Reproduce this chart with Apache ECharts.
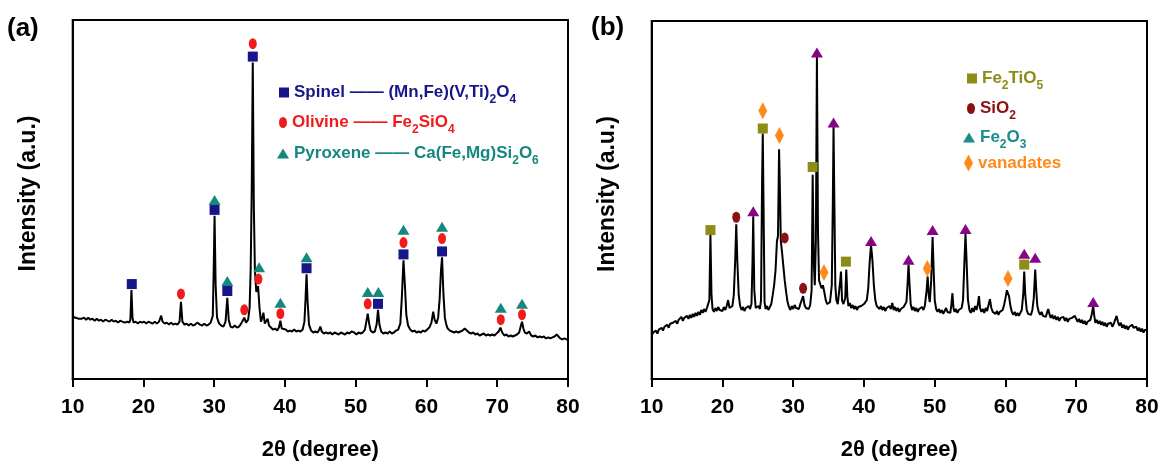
<!DOCTYPE html>
<html><head><meta charset="utf-8">
<script src="https://cdn.jsdelivr.net/npm/echarts@6/dist/echarts.min.js"></script>
<style>html,body{margin:0;padding:0;background:#fff}#c{width:1162px;height:466px}</style>
</head><body><div id="c"></div><script>
// ---- Panel (a): XRD pattern [2θ, intensity (a.u.)] ----
const aPattern = [
[10.0,63],[10.2,65],[10.4,62],[10.6,64],[10.8,61],[11.0,63],[11.3,61],[11.6,62],[11.9,60],[12.2,62],[12.5,60],[12.8,61],[13.1,59],[13.4,61],[13.7,59],[14.0,60],[14.3,58],[14.6,60],[14.9,59],[15.2,58],[15.5,60],[15.8,58],[16.1,59],[16.4,57],[16.7,59],[17.0,58],[17.2,60],[17.4,57],[17.7,58],[18.0,57],[18.15,60],[18.3,90],[18.45,62],[18.6,57],[18.9,58],[19.2,56],[19.5,58],[19.8,57],[20.1,58],[20.4,56],[20.7,58],[21.0,57],[21.3,56],[21.6,58],[21.9,56],[22.2,58],[22.5,64],[22.7,58],[23.0,56],[23.3,57],[23.6,55],[23.9,57],[24.2,55],[24.5,56],[24.8,55],[25.1,58],[25.3,78],[25.5,58],[25.8,55],[26.1,56],[26.4,54],[26.7,56],[27.0,54],[27.3,55],[27.6,57],[27.8,59],[28.0,55],[28.3,54],[28.6,56],[28.9,54],[29.2,55],[29.5,57],[29.8,64],[29.95,120],[30.05,165],[30.2,95],[30.4,62],[30.7,56],[31.0,54],[31.3,53],[31.6,58],[31.85,82],[32.05,60],[32.3,53],[32.6,52],[32.9,54],[33.2,52],[33.5,53],[33.8,56],[34.0,55],[34.25,62],[34.5,57],[34.8,60],[35.0,72],[35.15,110],[35.3,190],[35.45,320],[35.6,175],[35.75,110],[35.95,88],[36.2,94],[36.4,72],[36.6,58],[36.8,62],[36.95,67],[37.15,56],[37.4,58],[37.55,61],[37.75,54],[38.0,52],[38.3,50],[38.6,51],[38.9,49],[39.15,52],[39.35,59],[39.55,51],[39.8,49],[40.1,50],[40.4,48],[40.7,49],[41.0,48],[41.3,50],[41.6,48],[41.9,49],[42.2,48],[42.5,50],[42.75,58],[42.9,80],[43.05,106],[43.2,78],[43.4,55],[43.7,49],[44.0,47],[44.3,48],[44.6,47],[44.85,50],[45.0,53],[45.2,48],[45.5,46],[45.8,47],[46.1,46],[46.4,47],[46.7,45],[47.0,47],[47.3,46],[47.6,45],[47.9,47],[48.2,46],[48.5,45],[48.8,47],[49.1,46],[49.4,48],[49.6,50],[49.8,47],[50.1,45],[50.4,47],[50.7,46],[51.0,47],[51.3,50],[51.5,58],[51.7,66],[51.9,56],[52.1,49],[52.4,47],[52.7,48],[52.95,55],[53.15,70],[53.35,55],[53.6,48],[53.9,46],[54.2,47],[54.5,46],[54.8,48],[55.1,46],[55.4,47],[55.7,49],[56.0,50],[56.3,56],[56.5,80],[56.75,120],[56.95,95],[57.15,65],[57.4,54],[57.7,50],[58.0,48],[58.3,49],[58.6,47],[58.9,48],[59.2,47],[59.5,49],[59.8,48],[60.1,50],[60.4,52],[60.7,57],[60.95,68],[61.15,60],[61.4,56],[61.65,62],[61.85,80],[62.05,110],[62.2,123],[62.4,85],[62.6,62],[62.8,55],[63.0,51],[63.3,49],[63.6,48],[63.9,47],[64.2,48],[64.5,47],[64.8,48],[65.1,49],[65.4,51],[65.7,49],[66.0,47],[66.3,46],[66.6,47],[66.9,45],[67.2,46],[67.5,44],[67.8,45],[68.1,46],[68.4,44],[68.7,45],[69.0,44],[69.3,45],[69.6,44],[69.9,46],[70.2,48],[70.45,52],[70.7,47],[71.0,44],[71.3,45],[71.6,43],[71.9,44],[72.2,43],[72.5,44],[72.8,45],[73.1,47],[73.35,54],[73.5,58],[73.7,51],[73.9,47],[74.2,46],[74.5,48],[74.8,44],[75.1,43],[75.4,44],[75.7,42],[76.0,43],[76.3,42],[76.6,43],[76.9,41],[77.2,42],[77.5,41],[77.8,42],[78.1,43],[78.4,45],[78.6,43],[78.9,41],[79.2,40],[79.5,41],[79.8,40],[80.0,40]
];
const aSpinel   = [[18.35,96],[30.05,171],[31.85,89],[35.45,326],[43.05,112],[53.15,76],[56.75,126],[62.2,129]];
const aOlivine  = [[25.3,86],[34.25,70],[35.45,339],[36.25,101],[39.35,66],[51.7,76],[56.75,138],[62.2,142],[70.5,60],[73.5,65]];
const aPyroxene = [[30.05,181],[31.85,99],[36.35,113],[39.35,77],[43.05,123],[51.7,88],[53.2,88],[56.75,151],[62.2,154],[70.5,72],[73.5,76]];

// ---- Panel (b): XRD pattern [2θ, intensity (a.u.)] ----
const bPattern = [
[10.0,44],[10.2,47],[10.4,45],[10.6,49],[10.8,46],[11.0,50],[11.2,48],[11.4,52],[11.6,49],[11.8,53],[12.0,51],[12.2,55],[12.4,52],[12.6,56],[12.8,54],[13.0,57],[13.2,55],[13.4,59],[13.6,56],[13.8,60],[14.0,58],[14.2,63],[14.4,59],[14.6,62],[14.8,60],[15.0,64],[15.2,61],[15.4,65],[15.6,62],[15.8,66],[16.0,63],[16.2,67],[16.4,64],[16.6,68],[16.8,65],[17.0,70],[17.2,67],[17.4,71],[17.6,68],[17.8,72],[18.0,70],[18.15,80],[18.3,146],[18.45,85],[18.6,71],[18.8,68],[19.0,72],[19.2,69],[19.4,73],[19.6,70],[19.8,72],[20.0,69],[20.2,73],[20.4,70],[20.6,74],[20.8,80],[21.0,72],[21.2,70],[21.4,74],[21.6,85],[21.8,120],[21.95,157],[22.1,120],[22.3,85],[22.5,74],[22.7,70],[22.9,73],[23.1,69],[23.3,72],[23.5,70],[23.7,74],[23.9,71],[24.1,76],[24.25,120],[24.35,165],[24.5,90],[24.7,72],[24.9,70],[25.1,74],[25.3,71],[25.45,80],[25.6,200],[25.7,249],[25.8,180],[25.95,78],[26.1,71],[26.3,74],[26.5,70],[26.7,73],[26.9,76],[27.1,85],[27.3,95],[27.5,110],[27.7,140],[27.85,145],[28.0,233],[28.1,200],[28.25,140],[28.4,130],[28.6,115],[28.8,100],[29.0,88],[29.2,78],[29.4,73],[29.6,70],[29.8,74],[30.0,71],[30.2,75],[30.4,72],[30.6,74],[30.8,71],[31.0,76],[31.2,78],[31.4,84],[31.6,75],[31.8,72],[32.0,74],[32.2,71],[32.4,75],[32.6,90],[32.75,207],[32.9,120],[33.05,95],[33.2,140],[33.35,327],[33.5,150],[33.65,100],[33.85,100],[34.0,92],[34.2,95],[34.4,88],[34.6,80],[34.8,76],[35.0,74],[35.2,78],[35.45,95],[35.6,180],[35.7,256],[35.8,190],[35.95,95],[36.1,80],[36.3,76],[36.5,78],[36.65,100],[36.75,109],[36.9,80],[37.1,76],[37.35,82],[37.5,111],[37.65,84],[37.8,74],[38.0,77],[38.2,72],[38.4,75],[38.6,71],[38.8,74],[39.0,70],[39.2,73],[39.4,71],[39.6,74],[39.8,72],[40.0,76],[40.2,75],[40.4,80],[40.6,92],[40.8,118],[41.0,136],[41.2,120],[41.4,95],[41.6,80],[41.8,74],[42.0,76],[42.2,71],[42.4,74],[42.6,70],[42.8,73],[43.0,69],[43.2,72],[43.4,70],[43.6,74],[43.8,71],[44.0,77],[44.2,70],[44.4,73],[44.6,69],[44.8,72],[45.0,68],[45.2,71],[45.4,69],[45.6,73],[45.8,71],[46.0,78],[46.15,95],[46.3,116],[46.45,95],[46.6,76],[46.8,70],[47.0,73],[47.2,69],[47.4,72],[47.6,68],[47.8,71],[48.0,69],[48.2,73],[48.4,70],[48.6,74],[48.85,90],[49.0,104],[49.15,85],[49.3,78],[49.5,100],[49.7,144],[49.85,110],[50.0,80],[50.2,71],[50.4,68],[50.6,71],[50.8,67],[51.0,70],[51.2,66],[51.4,69],[51.6,72],[51.8,68],[52.0,70],[52.2,67],[52.35,75],[52.5,87],[52.65,72],[52.8,68],[53.0,71],[53.2,67],[53.4,70],[53.6,68],[53.8,72],[54.0,80],[54.2,120],[54.35,147],[54.5,120],[54.7,80],[54.9,70],[55.1,67],[55.3,72],[55.5,68],[55.7,74],[55.9,70],[56.1,76],[56.25,84],[56.4,72],[56.6,68],[56.8,71],[57.0,67],[57.2,72],[57.4,69],[57.6,75],[57.8,81],[58.0,72],[58.2,68],[58.4,70],[58.6,66],[58.8,69],[59.0,65],[59.2,68],[59.4,66],[59.6,70],[59.8,75],[60.0,82],[60.2,90],[60.35,91],[60.5,84],[60.7,74],[60.9,68],[61.1,65],[61.3,68],[61.5,64],[61.7,67],[61.9,64],[62.1,67],[62.3,70],[62.5,85],[62.65,109],[62.8,85],[63.0,70],[63.2,66],[63.4,68],[63.6,65],[63.8,70],[64.0,82],[64.2,111],[64.35,90],[64.5,74],[64.7,68],[64.9,65],[65.1,68],[65.3,64],[65.5,66],[65.7,63],[65.9,68],[66.05,71],[66.2,66],[66.4,62],[66.6,65],[66.8,61],[67.0,64],[67.2,60],[67.4,63],[67.6,59],[67.8,62],[68.0,60],[68.2,63],[68.4,59],[68.6,62],[68.8,58],[69.0,61],[69.2,59],[69.4,62],[69.6,60],[69.8,64],[70.0,61],[70.2,58],[70.4,61],[70.6,57],[70.8,60],[71.0,56],[71.2,59],[71.4,55],[71.6,58],[71.8,56],[72.0,60],[72.2,66],[72.4,74],[72.55,64],[72.7,57],[72.9,60],[73.1,56],[73.3,59],[73.5,55],[73.7,58],[73.9,54],[74.1,57],[74.3,53],[74.5,56],[74.7,54],[74.9,57],[75.1,53],[75.3,56],[75.5,60],[75.7,64],[75.9,58],[76.1,54],[76.3,57],[76.5,52],[76.7,55],[76.9,51],[77.1,54],[77.3,50],[77.5,53],[77.7,51],[77.9,55],[78.1,52],[78.3,50],[78.5,53],[78.7,49],[78.9,52],[79.1,48],[79.3,51],[79.5,47],[79.7,50],[79.9,48],[80.0,49]
];
const bFe2TiO5   = [[18.3,151],[25.7,254],[32.75,215],[37.45,119],[62.65,116]];
const bSiO2      = [[21.95,164],[28.8,143],[31.4,92]];
const bFe2O3     = [[24.35,170],[33.35,331],[35.7,260],[41.0,140],[46.3,121],[49.7,151],[54.35,152],[62.65,127],[64.2,123],[72.4,78]];
const bVanadates = [[25.7,272],[28.05,247],[34.35,108],[48.95,112],[60.35,102]];

const xTicks = {min: 10, max: 80, interval: 10};
const yRange = {min: 0, max: 363};

const FONT = '"Liberation Sans", Arial, Helvetica, sans-serif';
const ELLIPSE = 'path://M5,0A5,5 0 1,1 5,10A5,5 0 1,1 5,0Z';
const C = {spinel:'#16168a', olivine:'#f01c1c', pyroxene:'#16877e',
           fe2tio5:'#8c8c16', sio2:'#8a1212', fe2o3leg:'#1a8c8c', fe2o3:'#850585', van:'#ff8a1c'};

function leg(name, left, top, icon, w, h, color, text, iconColor) {
  const d = {name: name, icon: icon};
  if (iconColor) d.itemStyle = {color: iconColor};
  return {
    show: true, data: [d], left: left, top: top, itemWidth: w, itemHeight: h,
    padding: 0, itemGap: 0, selectedMode: false, orient: 'vertical', symbolKeepAspect: false,
    formatter: function () { return text; },
    textStyle: {color: color, fontSize: 17, fontWeight: 'bold', fontFamily: FONT, lineHeight: 20,
      rich: {s: {color: color, fontSize: 12, fontWeight: 'bold', fontFamily: FONT, verticalAlign: 'middle', lineHeight: 12, padding: [15, 0, 0, 0]}}}
  };
}
function xAx(i) {
  return {gridIndex: i, type: 'value', min: xTicks.min, max: xTicks.max, interval: xTicks.interval,
    name: '2θ (degree)', nameLocation: 'middle', nameGap: 60,
    nameTextStyle: {fontSize: 22, fontWeight: 'bold', color: '#000', fontFamily: FONT},
    axisLine: {lineStyle: {color: '#000', width: 2}},
    axisTick: {length: 8, lineStyle: {color: '#000', width: 2}},
    axisLabel: {fontSize: 21, fontWeight: 'bold', color: '#000', margin: 18, fontFamily: FONT},
    splitLine: {show: false}};
}
function yAx(i) {
  return {gridIndex: i, type: 'value', min: yRange.min, max: yRange.max,
    name: 'Intensity (a.u.)', nameLocation: 'middle', nameGap: 33, nameRotate: 90,
    nameTextStyle: {fontSize: 23, fontWeight: 'bold', color: '#000', fontFamily: FONT, padding: [0, 0, 0, 12]},
    axisLine: {show: true, lineStyle: {color: '#000', width: 2}},
    axisTick: {show: false}, axisLabel: {show: false}, splitLine: {show: false}};
}
function lineS(i, data) {
  return {type: 'line', name: i ? 'pattern b' : 'pattern a', xAxisIndex: i, yAxisIndex: i, data: data,
    symbol: 'none', silent: true, lineStyle: {color: '#000', width: 2}, z: 2};
}
function scat(i, name, data, symbol, size, color) {
  return {type: 'scatter', name: name, xAxisIndex: i, yAxisIndex: i, data: data, symbol: symbol,
    symbolSize: size, itemStyle: {color: color, opacity: 1}, z: 3};
}

const option = {
  animation: false,
  backgroundColor: '#fff',
  title: [
    {text: '(a)', left: 7, top: 16, padding: 0, textStyle: {fontSize: 26, fontWeight: 'bold', color: '#000', fontFamily: FONT}},
    {text: '(b)', left: 591, top: 15, padding: 0, textStyle: {fontSize: 26, fontWeight: 'bold', color: '#000', fontFamily: FONT}}
  ],
  grid: [
    {left: 72.7, top: 20, width: 495.3, height: 363, show: true, borderColor: '#000', borderWidth: 2, backgroundColor: 'transparent'},
    {left: 651.7, top: 21, width: 495.3, height: 363, show: true, borderColor: '#000', borderWidth: 2, backgroundColor: 'transparent'}
  ],
  xAxis: [xAx(0), xAx(1)],
  yAxis: [yAx(0), yAx(1)],
  legend: [
    leg('Spinel', 279, 79, 'rect', 10, 10, C.spinel, 'Spinel —— (Mn,Fe)(V,Ti){s|2}O{s|4}'),
    leg('Olivine', 279, 109, ELLIPSE, 8, 11, C.olivine, 'Olivine —— Fe{s|2}SiO{s|4}'),
    leg('Pyroxene', 277, 140, 'triangle', 12, 10, C.pyroxene, 'Pyroxene —— Ca(Fe,Mg)Si{s|2}O{s|6}'),
    leg('Fe2TiO5', 967, 65, 'rect', 10, 10, C.fe2tio5, 'Fe{s|2}TiO{s|5}'),
    leg('SiO2', 967, 95, ELLIPSE, 8, 11, C.sio2, 'SiO{s|2}'),
    leg('Fe2O3', 963, 124, 'triangle', 12, 10, C.fe2o3leg, 'Fe{s|2}O{s|3}', C.fe2o3leg),
    leg('vanadates', 964, 153, 'diamond', 9, 17, C.van, 'vanadates')
  ],
  series: [
    lineS(0, aPattern), lineS(1, bPattern),
    scat(0, 'Spinel', aSpinel, 'rect', 10, C.spinel),
    scat(0, 'Olivine', aOlivine, ELLIPSE, [8, 11], C.olivine),
    scat(0, 'Pyroxene', aPyroxene, 'triangle', [12, 10], C.pyroxene),
    scat(1, 'Fe2TiO5', bFe2TiO5, 'rect', 10, C.fe2tio5),
    scat(1, 'SiO2', bSiO2, ELLIPSE, [8, 11], C.sio2),
    scat(1, 'Fe2O3', bFe2O3, 'triangle', [12, 10], C.fe2o3),
    scat(1, 'vanadates', bVanadates, 'diamond', [9, 17], C.van)
  ]
};
const chart = echarts.init(document.getElementById('c'), null, {renderer: 'canvas'});
chart.setOption(option);
</script></body></html>
